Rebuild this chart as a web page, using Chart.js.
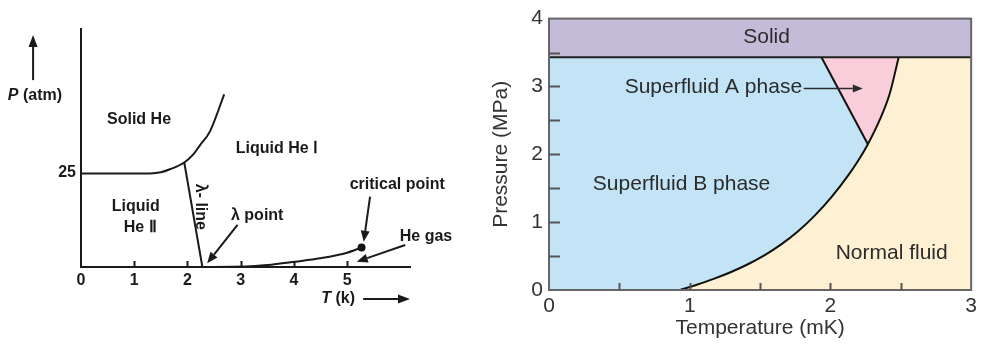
<!DOCTYPE html>
<html>
<head>
<meta charset="utf-8">
<script src="https://cdn.jsdelivr.net/npm/chart.js@4.4.1/dist/chart.umd.min.js"></script>
<style>
  html, body { margin: 0; padding: 0; background: #fff; }
  #wrap { position: relative; width: 981px; height: 345px; overflow: hidden; }
  #left { position: absolute; left: 0; top: 0; }
  #right { position: absolute; left: 480px; top: 0; }
</style>
</head>
<body>
<div id="wrap">
  <canvas id="left" width="480" height="345"></canvas>
  <canvas id="right" width="501" height="345"></canvas>
</div>
<script>
// ---- helium-4 diagram (left) ----
const HE4_T_TICKS = [0, 1, 2, 3, 4, 5];
const HE4_P_TICKS = [25];
const HE4_T_MAX = 6.18;
const HE4_P_MAX = 63.3;

// solid / liquid boundary
const MELT_T = [0, 1.3, 1.5, 1.67, 1.94, 2.1, 2.24, 2.42, 2.69];
const MELT_P = [24.9, 24.9, 25.2, 26.0, 27.8, 29.8, 32.5, 36.0, 45.9];
// lambda line
const LAMBDA_T = [1.94, 2.28];
const LAMBDA_P = [27.8, 0];
// vapour pressure curve up to the critical point
const VAPOR_T = [2.28, 3.1, 3.5, 4.02, 4.49, 5.0, 5.27];
const VAPOR_P = [0, 0.1, 0.5, 1.4, 2.3, 3.8, 5.2];
const CRIT_T = 5.27;
const CRIT_P = 5.2;

const HE4_LABELS = [
  { parts: [{ s: 'Solid He' }], t: 1.09, p: 39.1 },
  { parts: [{ s: 'Liquid He Ⅰ' }], t: 3.68, p: 31.4 },
  { parts: [{ s: 'Liquid' }], t: 1.03, p: 16.0 },
  { parts: [{ s: 'He Ⅱ' }], t: 1.11, p: 10.6 },
  { parts: [{ s: 'λ- line' }], t: 2.24, p: 16.0, rot: Math.PI / 2 },
  { parts: [{ s: 'λ point' }], t: 3.31, p: 13.8 },
  { parts: [{ s: 'critical point' }], t: 5.94, p: 21.8 },
  { parts: [{ s: 'He gas' }], t: 6.48, p: 8.2 },
  { parts: [{ s: 'P', italic: true }, { s: ' (atm)' }], t: -0.865, p: 45.7 },
  { parts: [{ s: 'T', italic: true }, { s: ' (k)' }], t: 4.83, p: -8.5 },
];

const HE4_ARROWS = [
  { from: [5.43, 18.7], to: [5.31, 6.7], head: 11, w: 9 },
  { from: [6.09, 5.85], to: [5.18, 1.4], head: 11, w: 9 },
  { from: [2.94, 11.2], to: [2.37, 1.0], head: 11, w: 9 },
  { from: [-0.9, 49.7], to: [-0.9, 61.7], head: 12, w: 9 },
  { from: [5.3, -8.5], to: [6.18, -8.5], head: 12, w: 9 },
];

// ---- helium-3 diagram (right) ----
const HE3_T_MAX = 3;
const HE3_P_MAX = 4;
const SOLID_P = 3.43;
// normal fluid / superfluid boundary
const NB_T = [0.93, 1.05, 1.17, 1.29, 1.41, 1.53, 1.65, 1.77, 1.89, 2.01, 2.13, 2.20, 2.266, 2.35, 2.42, 2.485];
const NB_P = [0, 0.078, 0.164, 0.262, 0.376, 0.510, 0.672, 0.866, 1.100, 1.376, 1.700, 1.917, 2.149, 2.506, 2.884, 3.43];
const JUNCTION = 12; // where the A-B line meets the curve
// A phase / B phase boundary
const AB_T = [2.266, 1.936];
const AB_P = [2.149, 3.43];

const HE3_LABELS = [
  { parts: [{ s: 'Solid' }], t: 1.546, p: 3.72 },
  { parts: [{ s: 'Superfluid A phase' }], t: 1.168, p: 2.99 },
  { parts: [{ s: 'Superfluid B phase' }], t: 0.942, p: 1.565 },
  { parts: [{ s: 'Normal fluid' }], t: 2.435, p: 0.536 },
];
const HE3_ARROWS = [
  { from: [1.81, 2.97], to: [2.23, 2.97], head: 10, w: 8 },
];

const COL_SOLID = '#c3bbd7';
const COL_B = '#c2e4f6';
const COL_A = '#f9cdd9';
const COL_NORMAL = '#fef0d2';

Chart.defaults.font.family = '"Liberation Sans", Arial, sans-serif';

const pts = (ts, ps) => ts.map((t, i) => ({ x: t, y: ps[i] }));

function curve(data, color, width, smooth) {
  return {
    data, showLine: true, borderColor: color, borderWidth: width, pointRadius: 0,
    tension: 0, cubicInterpolationMode: smooth ? 'monotone' : 'default', fill: false,
  };
}

function shape(data, color) {
  return { data, showLine: true, borderColor: 'transparent', borderWidth: 0, pointRadius: 0, tension: 0, backgroundColor: color, fill: 'shape' };
}

const decor = {
  id: 'decor',
  afterDraw(chart, args, opts) {
    const { ctx, chartArea } = chart;
    const xs = chart.scales.x;
    const ys = chart.scales.y;
    const px = (t) => xs.getPixelForValue(t);
    const py = (p) => ys.getPixelForValue(p);
    ctx.save();

    if (opts.frame) {
      ctx.strokeStyle = opts.frame.color;
      ctx.lineWidth = opts.frame.width;
      ctx.strokeRect(chartArea.left, chartArea.top, chartArea.right - chartArea.left, chartArea.bottom - chartArea.top);
    }

    // tick marks pointing into the plot
    (opts.ticks || []).forEach((tk) => {
      const scale = chart.scales[tk.axis];
      ctx.strokeStyle = tk.color;
      ctx.lineWidth = tk.width;
      scale.ticks.forEach((t) => {
        if (t.value <= scale.min || t.value >= scale.max) return;
        const v = Math.round(scale.getPixelForValue(t.value)) + 0.5;
        ctx.beginPath();
        if (tk.axis === 'x') {
          ctx.moveTo(v, chartArea.bottom);
          ctx.lineTo(v, chartArea.bottom - tk.len);
        } else {
          ctx.moveTo(chartArea.left, v);
          ctx.lineTo(chartArea.left + tk.len, v);
        }
        ctx.stroke();
      });
    });

    // arrows
    (opts.arrows || []).forEach((a) => {
      const x1 = px(a.from[0]), y1 = py(a.from[1]);
      const x2 = px(a.to[0]), y2 = py(a.to[1]);
      const ang = Math.atan2(y2 - y1, x2 - x1);
      const bx = x2 - a.head * Math.cos(ang), by = y2 - a.head * Math.sin(ang);
      ctx.strokeStyle = opts.arrowColor;
      ctx.fillStyle = opts.arrowColor;
      ctx.lineWidth = opts.arrowWidth;
      ctx.beginPath();
      ctx.moveTo(x1, y1);
      ctx.lineTo(bx, by);
      ctx.stroke();
      ctx.beginPath();
      ctx.moveTo(x2, y2);
      ctx.lineTo(bx - (a.w / 2) * Math.sin(ang), by + (a.w / 2) * Math.cos(ang));
      ctx.lineTo(bx + (a.w / 2) * Math.sin(ang), by - (a.w / 2) * Math.cos(ang));
      ctx.closePath();
      ctx.fill();
    });

    // region and axis labels
    ctx.fillStyle = opts.textColor;
    ctx.textBaseline = 'middle';
    ctx.textAlign = 'left';
    (opts.labels || []).forEach((l) => {
      const fontFor = (part) => `${part.italic ? 'italic ' : ''}${opts.weight} ${opts.size}px ${Chart.defaults.font.family}`;
      let total = 0;
      l.parts.forEach((part) => { ctx.font = fontFor(part); total += ctx.measureText(part.s).width; });
      ctx.save();
      ctx.translate(px(l.t), py(l.p));
      if (l.rot) ctx.rotate(l.rot);
      let x = -total / 2;
      l.parts.forEach((part) => {
        ctx.font = fontFor(part);
        ctx.fillText(part.s, x, 0);
        x += ctx.measureText(part.s).width;
      });
      ctx.restore();
    });
    ctx.restore();
  },
};

// left chart
new Chart(document.getElementById('left'), {
  type: 'scatter',
  data: {
    datasets: [
      curve(pts(MELT_T, MELT_P), '#1a1a1a', 2, true),
      curve(pts(LAMBDA_T, LAMBDA_P), '#1a1a1a', 2, false),
      curve(pts(VAPOR_T, VAPOR_P), '#1a1a1a', 2, true),
      { data: [{ x: CRIT_T, y: CRIT_P }], pointRadius: 4, pointBackgroundColor: '#111', pointBorderWidth: 0 },
    ],
  },
  options: {
    responsive: false,
    animation: false,
    layout: { padding: { top: 29, right: 70, left: 0, bottom: 0 } },
    plugins: {
      legend: { display: false },
      tooltip: { enabled: false },
      decor: {
        ticks: [{ axis: 'x', len: 6, color: '#1a1a1a', width: 2 }],
        arrows: HE4_ARROWS,
        arrowColor: '#1a1a1a',
        arrowWidth: 2,
        labels: HE4_LABELS,
        textColor: '#1a1a1a',
        weight: 'bold',
        size: 16,
      },
    },
    scales: {
      x: {
        type: 'linear', min: 0, max: HE4_T_MAX,
        afterBuildTicks: (s) => { s.ticks = HE4_T_TICKS.map((v) => ({ value: v })); },
        ticks: { font: { size: 16, weight: 'bold' }, color: '#1a1a1a', padding: 4, maxRotation: 0, autoSkip: false },
        grid: { display: false, drawTicks: false },
        border: { display: true, color: '#1a1a1a', width: 2 },
        afterFit: (s) => { s.height = 78; },
      },
      y: {
        type: 'linear', min: 0, max: HE4_P_MAX,
        afterBuildTicks: (s) => { s.ticks = HE4_P_TICKS.map((v) => ({ value: v })); },
        ticks: { font: { size: 16, weight: 'bold' }, color: '#1a1a1a', padding: 5 },
        grid: { display: false, drawTicks: false },
        border: { display: true, color: '#1a1a1a', width: 2 },
        afterFit: (s) => { s.width = 81; },
      },
    },
  },
  plugins: [decor],
});

// right chart
const nb = pts(NB_T, NB_P);
const solidPoly = [{ x: 0, y: SOLID_P }, { x: HE3_T_MAX, y: SOLID_P }, { x: HE3_T_MAX, y: HE3_P_MAX }, { x: 0, y: HE3_P_MAX }];
const bPoly = [{ x: 0, y: 0 }, ...nb.slice(0, JUNCTION + 1), { x: AB_T[1], y: AB_P[1] }, { x: 0, y: SOLID_P }];
const aPoly = [...nb.slice(JUNCTION), { x: AB_T[1], y: AB_P[1] }];
const normalPoly = [{ x: NB_T[0], y: 0 }, { x: HE3_T_MAX, y: 0 }, { x: HE3_T_MAX, y: SOLID_P }, ...nb.slice().reverse()];

new Chart(document.getElementById('right'), {
  type: 'scatter',
  data: {
    datasets: [
      curve(nb, '#111', 2, true),
      curve(pts(AB_T, AB_P), '#111', 2, false),
      curve([{ x: 0, y: SOLID_P }, { x: HE3_T_MAX, y: SOLID_P }], '#222', 2, false),
      shape(solidPoly, COL_SOLID),
      shape(bPoly, COL_B),
      shape(aPoly, COL_A),
      shape(normalPoly, COL_NORMAL),
    ],
  },
  options: {
    responsive: false,
    animation: false,
    layout: { padding: { top: 14, right: 7, left: 0, bottom: 0 } },
    plugins: {
      legend: { display: false },
      tooltip: { enabled: false },
      decor: {
        frame: { color: '#666', width: 2 },
        ticks: [
          { axis: 'x', len: 7, color: '#555', width: 2 },
          { axis: 'y', len: 11, color: '#555', width: 2 },
        ],
        arrows: HE3_ARROWS,
        arrowColor: '#2b2b2b',
        arrowWidth: 1.5,
        labels: HE3_LABELS,
        textColor: '#2b2b2b',
        weight: 'normal',
        size: 21,
      },
    },
    scales: {
      x: {
        type: 'linear', min: 0, max: HE3_T_MAX,
        ticks: { stepSize: 0.5, callback: (v) => (Number.isInteger(v) ? String(v) : ''), font: { size: 21 }, color: '#333', padding: 4, maxRotation: 0, autoSkip: false },
        grid: { display: false, drawTicks: false },
        border: { display: false },
        title: { display: true, text: 'Temperature (mK)', font: { size: 21 }, color: '#333', padding: { top: 0, bottom: 4 } },
        afterFit: (s) => { s.height = 55; },
      },
      y: {
        type: 'linear', min: 0, max: HE3_P_MAX,
        ticks: { stepSize: 0.5, callback: (v) => (Number.isInteger(v) ? String(v) : ''), font: { size: 21 }, color: '#333', padding: 6, autoSkip: false },
        grid: { display: false, drawTicks: false },
        border: { display: false },
        title: { display: true, text: 'Pressure (MPa)', font: { size: 21 }, color: '#333', padding: { top: 9, bottom: 0 } },
        afterFit: (s) => { s.width = 69; },
      },
    },
  },
  plugins: [decor],
});
</script>
</body>
</html>
